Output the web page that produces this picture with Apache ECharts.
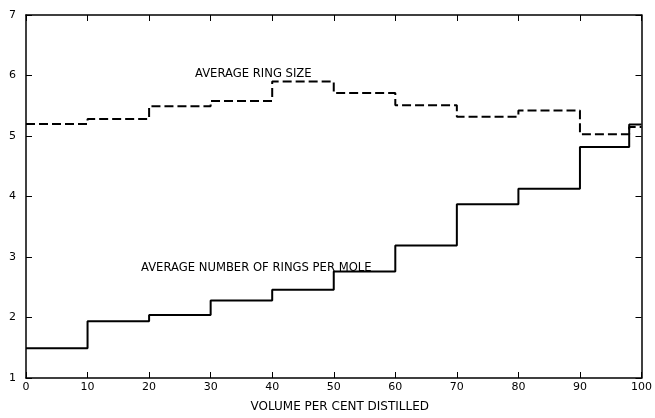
<!DOCTYPE html>
<html>
<head>
    <meta charset="UTF-8">
    <title>Ring size and rings per mole</title>
    <script src="https://cdn.jsdelivr.net/npm/echarts@6/dist/echarts.min.js"></script>
    <style>
        html, body { margin: 0; padding: 0; background: #fff; }
        #chart { width: 655px; height: 418px; }
    </style>
</head>
<body>
<div id="chart"></div>
<script type="text/javascript">
    // left edge of each distillation cut (volume %), last entry closes the final step
    var cutEdges = [0, 10, 20, 30, 40, 50, 60, 70, 80, 90, 98, 100];
    var ringSize = [5.20, 5.28, 5.49, 5.58, 5.90, 5.71, 5.51, 5.32, 5.42, 5.03, 5.15, 5.15];
    var ringsPerMole = [1.49, 1.94, 2.04, 2.28, 2.46, 2.76, 3.19, 3.87, 4.13, 4.82, 5.19, 5.19];
    var xTicks = [0, 10, 20, 30, 40, 50, 60, 70, 80, 90, 100];
    var yTicks = [1, 2, 3, 4, 5, 6, 7];

    function pairs(vals) {
        var out = [];
        for (var i = 0; i < cutEdges.length; i++) {
            out.push([cutEdges[i], vals[i]]);
        }
        return out;
    }

    var FONT = 'DejaVu Sans';
    var chart = echarts.init(document.getElementById('chart'));

    var axisBase = {
        type: 'value',
        axisLine: { show: true, onZero: false, lineStyle: { color: '#000', width: 1.5 } },
        axisTick: { show: true, inside: true, length: 6, lineStyle: { color: '#000', width: 1 } },
        splitLine: { show: false }
    };

    chart.setOption({
        animation: false,
        backgroundColor: '#fff',
        grid: { left: 26, right: 13, top: 15, bottom: 32 },
        xAxis: [
            Object.assign({}, axisBase, {
                position: 'bottom',
                min: xTicks[0], max: xTicks[xTicks.length - 1], interval: 10,
                name: 'VOLUME PER CENT DISTILLED',
                nameLocation: 'middle',
                nameGap: 23,
                nameTextStyle: { fontFamily: FONT, fontSize: 12, color: '#000', padding: [0, 0, 0, 12] },
                axisLabel: { fontFamily: FONT, fontSize: 11, color: '#000', margin: 4 }
            }),
            Object.assign({}, axisBase, {
                position: 'top',
                min: xTicks[0], max: xTicks[xTicks.length - 1], interval: 10,
                axisLabel: { show: false }
            })
        ],
        yAxis: [
            Object.assign({}, axisBase, {
                position: 'left',
                min: yTicks[0], max: yTicks[yTicks.length - 1], interval: 1,
                axisLabel: { fontFamily: FONT, fontSize: 11, color: '#000', margin: 10 }
            }),
            Object.assign({}, axisBase, {
                position: 'right',
                min: yTicks[0], max: yTicks[yTicks.length - 1], interval: 1,
                axisLabel: { show: false }
            })
        ],
        series: [
            {
                name: 'AVERAGE RING SIZE',
                type: 'line',
                step: 'end',
                symbol: 'none',
                data: pairs(ringSize),
                lineStyle: { color: '#000', width: 2, type: [9, 4] }
            },
            {
                name: 'AVERAGE NUMBER OF RINGS PER MOLE',
                type: 'line',
                step: 'end',
                symbol: 'none',
                data: pairs(ringsPerMole),
                lineStyle: { color: '#000', width: 2 }
            }
        ],
        graphic: [
            {
                type: 'text', left: 195, top: 68,
                style: { text: 'AVERAGE RING SIZE', fontFamily: FONT, fontSize: 11.6, fill: '#000' }
            },
            {
                type: 'text', left: 141, top: 262,
                style: { text: 'AVERAGE NUMBER OF RINGS PER MOLE', fontFamily: FONT, fontSize: 11.6, fill: '#000' }
            }
        ]
    });
</script>
</body>
</html>
